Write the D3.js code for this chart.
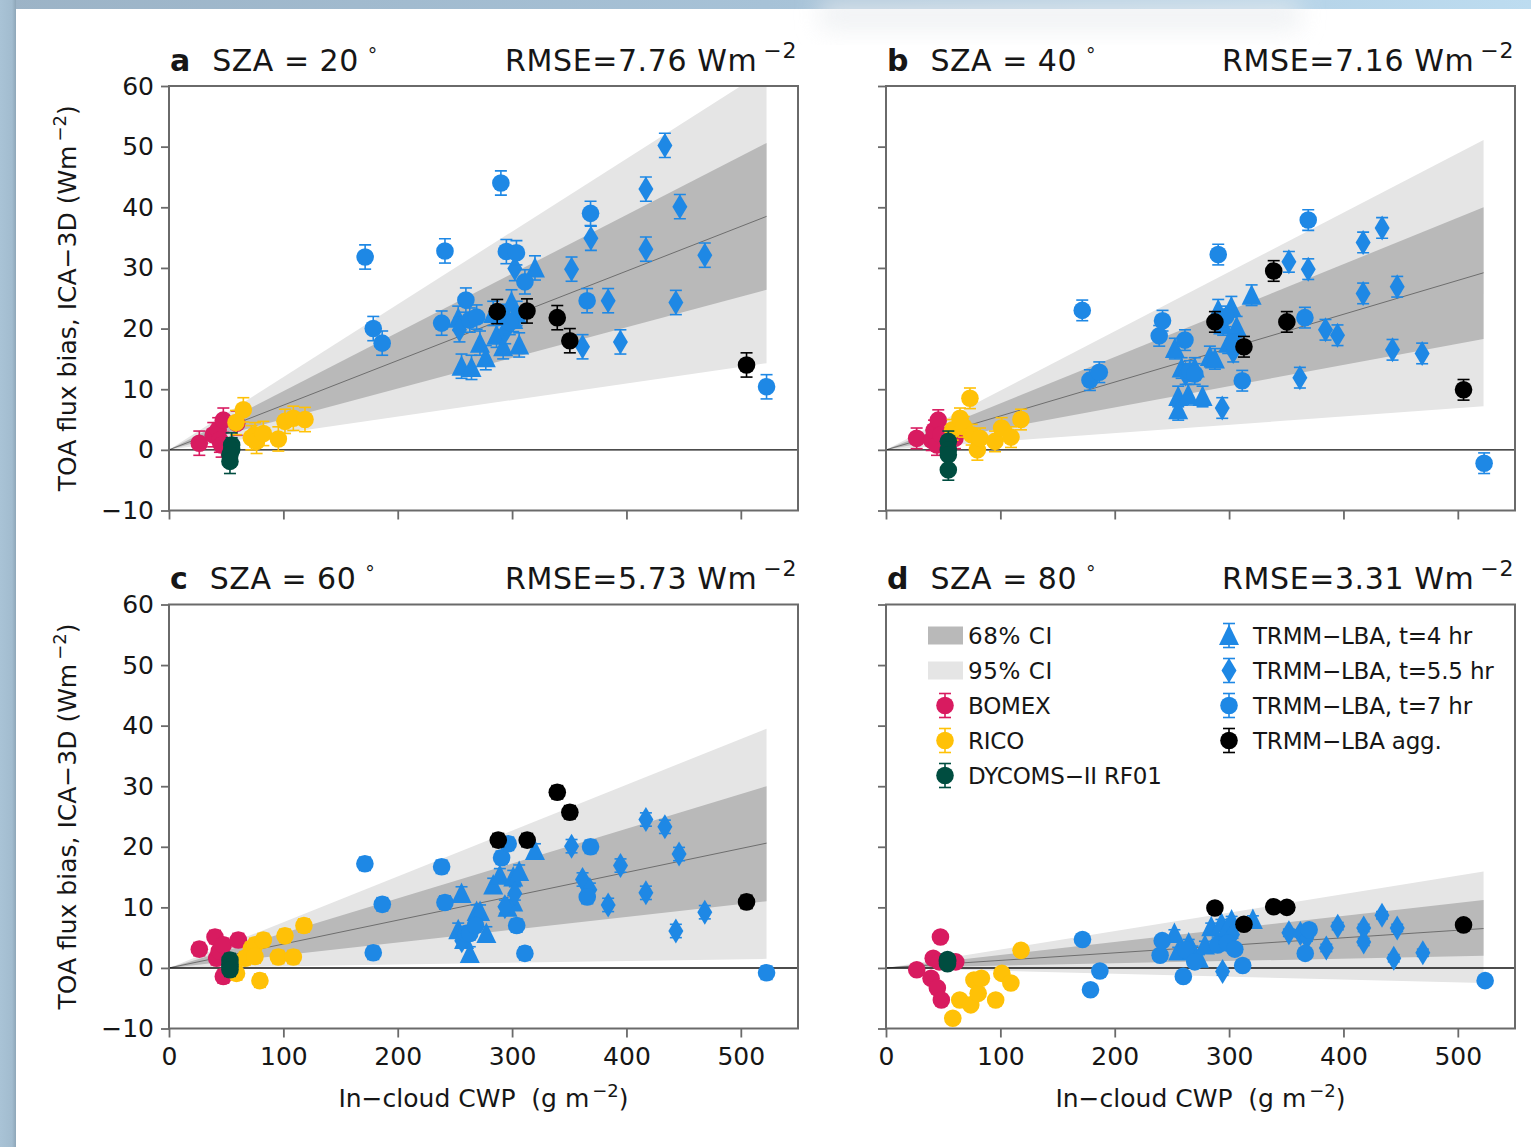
<!DOCTYPE html>
<html><head><meta charset="utf-8">
<script src="https://cdn.jsdelivr.net/npm/d3@7"></script>
<style>
body{margin:0;background:#fff;}
svg{display:block;}
text{font-family:"DejaVu Sans",sans-serif;fill:#161616;white-space:pre;}
</style>
</head><body>
<svg id="chart" width="1531" height="1147"></svg>
<script>
// ---------------- DATA ----------------
const panelLetters = ["a", "b", "c", "d"];
const szaValues = [20, 40, 60, 80];
const rmseValues = ["7.76", "7.16", "5.73", "3.31"];
const yTicks = [-10, 0, 10, 20, 30, 40, 50, 60];
const xTicks = [0, 100, 200, 300, 400, 500];
const bandEndCWP = 522.5;
// values at bandEndCWP: [lo95, lo68, fit, hi68, hi95]
const band_a = [14.3, 26.4, 38.5, 50.6, 62.7];
const band_b = [7.2, 18.3, 29.2, 40.0, 51.1];
const band_c = [1.5, 11.0, 20.6, 30.0, 39.5];
const band_d = [-2.5, 2.0, 6.5, 11.2, 15.9];
const errBar = [2.0, 1.7, 1.1, 0.6];

const seriesNames = ["BOMEX", "RICO", "DYCOMS\u2212II RF01", "TRMM\u2212LBA, t=4 hr",
  "TRMM\u2212LBA, t=5.5 hr", "TRMM\u2212LBA, t=7 hr", "TRMM\u2212LBA agg."];

// panel a  (SZA 20)
const bomex_a = [[26.5,1.1],[38.7,2.5],[43,3.3],[44.5,1.6],[46,0.8],[47.5,4.9],[59.2,4.4]];
const rico_a = [[58.6,4.5],[65,6.6],[72,2.0],[75.2,2.5],[76.6,1.4],[82.5,2.7],[95.6,1.8],[101.4,4.7],[108.7,5.2],[118.9,5.0]];
const dycoms_a = [[54.8,0.8],[54.8,0],[53.3,-0.8],[53.3,-1.9]];
const tri4_a = [[252.9,21.7],[255.8,13.8],[264.5,13.6],[271.9,17.6],[277,15.2],[283.5,22.5],[286.4,18.9],[292.2,17.0],[295,22.0],[299.5,24.4],[301,21.5],[304,22.5],[306.2,17.3],[320,30.0]];
const dia55_a = [[254,19.8],[294,19.5],[302.4,29.9],[352,29.8],[361.6,17.0],[368.9,34.9],[384,24.6],[394.7,17.8],[417,43.0],[417,33.1],[433.6,50.2],[443.2,24.3],[446.7,40.1],[468.5,32.1]];
const circ7_a = [[171.5,31.8],[178.6,20.0],[186.4,17.6],[238.4,20.9],[241.3,32.8],[259.6,24.7],[263,21.4],[269,21.9],[290.2,44.0],[295,32.7],[298,21],[303.8,32.5],[311.2,27.7],[365.6,24.6],[368.6,39.0],[522.5,10.4]];
const agg_a = [[287,22.8],[313,22.9],[339.5,21.8],[350.5,18.0],[505,14.0]];

// panel b  (SZA 40)
const bomex_b = [[26.8,1.9],[40,1.6],[42,3.2],[44.6,0.8],[45.7,4.9],[48,2.5],[60.3,1.9]];
const rico_b = [[58.3,3.3],[64.7,5.2],[68,3.8],[73.4,8.5],[74.9,2.5],[79.9,0.0],[82.2,1.9],[95.3,1.4],[101.1,3.6],[109.3,2.1],[118,5.0]];
const dycoms_b = [[54.5,1.4],[54.5,0],[54.5,-0.8],[54.5,-3.3]];
const tri4_b = [[252.6,16.7],[255.5,8.8],[255.5,6.6],[258.5,13.5],[264.3,9.1],[270,13.5],[276.8,8.8],[283.2,15.4],[287.6,15.0],[290.5,23.1],[294.8,20.6],[299.2,17.6],[302,23.6],[306.6,20.3],[319.7,25.5]];
const dia55_b = [[262,12.5],[294,6.9],[303.6,16.2],[352.3,31.0],[361.9,11.9],[369.2,29.8],[384.3,19.8],[394.8,18.9],[417.2,34.2],[417.2,25.8],[433.8,36.6],[442.9,16.5],[447,26.9],[468.8,15.9]];
const circ7_b = [[171.6,23.0],[178.3,11.5],[186.5,12.8],[238.9,18.8],[241.8,21.3],[261.4,18.1],[265.7,13],[270,12.5],[290.5,32.2],[297,22],[303.6,17.6],[311.5,11.4],[366.3,21.8],[369.2,37.9],[523,-2.2]];
const agg_b = [[287.6,21.1],[313,17.0],[339,29.5],[350.5,21.1],[505,9.9]];

// panel c  (SZA 60)
const bomex_c = [[26.5,3.1],[40.2,5.1],[41.7,1.6],[44,2.8],[47.5,3.8],[47.5,-1.4],[60.6,4.6]];
const rico_c = [[59,-0.9],[66.4,1.6],[72,3.2],[75.2,3.8],[75.2,1.9],[79.5,-2.1],[82.5,4.6],[95.6,1.8],[101.4,5.3],[108.7,1.8],[118,7.0]];
const dycoms_c = [[53.3,1.3],[53.3,0.6],[53.3,0.2],[53.3,-0.3]];
const tri4_c = [[252.9,6.3],[255.8,12.3],[258,4.7],[263,2.4],[269,9.3],[272,9.3],[277.5,5.7],[283.5,13.7],[289.3,15.3],[296,10],[301,15.0],[301,10.9],[306.2,15.9],[320,19.4]];
const dia55_c = [[256,4.5],[293.7,10.1],[302.4,12.3],[352,20.1],[361.6,14.6],[368,12.9],[384,10.4],[394.8,16.9],[417,24.5],[417,12.4],[433.6,23.3],[443.2,6.1],[446,18.8],[468.5,9.2]];
const circ7_c = [[171.3,17.2],[178.6,2.5],[186.5,10.5],[238.4,16.7],[241.3,10.8],[260,5.7],[263,5.7],[268,7],[290.8,18.2],[296.6,20.5],[304,7.0],[311.2,2.4],[365.7,11.7],[368.6,20.0],[522.5,-0.8]];
const agg_c = [[287.9,21.1],[313.2,21.1],[339.5,29.0],[350.5,25.7],[505,10.9]];

// panel d  (SZA 80)
const bomex_d = [[26.9,-0.3],[39.4,-1.7],[41.3,1.6],[44.9,-3.3],[46.6,1.0],[47.6,5.1],[48.4,-5.3],[61,1.0]];
const rico_d = [[58.4,-8.3],[64.5,-5.3],[74.1,-6.1],[76.9,-2.0],[80.6,-4.2],[83.4,-1.7],[95.9,-5.3],[101.3,-0.9],[109.2,-2.5],[118.1,2.9]];
const dycoms_d = [[53.8,1.4],[53.8,1.0],[53.8,0.7],[53.8,1.2]];
const tri4_d = [[252.2,5.7],[255.5,2.8],[264.7,4.1],[268,3],[273.6,1.6],[278.9,3.8],[284.4,6.8],[290,4.5],[293.3,7.4],[298,6.5],[302.2,7.9],[320.8,8.0]];
const dia55_d = [[294.3,-0.6],[303,5.5],[352.3,5.8],[362.3,5.7],[368,5],[385,3.3],[395,6.9],[417.7,6.6],[417.7,4.3],[433.7,8.7],[444,1.6],[447,6.6],[469.4,2.5]];
const circ7_d = [[171.8,4.7],[178.8,-3.6],[187,-0.5],[239.7,2.1],[241.5,4.5],[260,-1.4],[262,3],[270,1.0],[290,3.8],[298.6,4.1],[305,3.1],[311.9,0.4],[366.6,2.4],[370,6.3],[523.9,-2.1]];
const agg_d = [[287.6,9.9],[313,7.2],[339,10.1],[350.5,10.0],[505,7.1]];

// ---------------- BUILD ----------------
const bands = [band_a, band_b, band_c, band_d];
const panelSeries = [
  [bomex_a, rico_a, dycoms_a, tri4_a, dia55_a, circ7_a, agg_a],
  [bomex_b, rico_b, dycoms_b, tri4_b, dia55_b, circ7_b, agg_b],
  [bomex_c, rico_c, dycoms_c, tri4_c, dia55_c, circ7_c, agg_c],
  [bomex_d, rico_d, dycoms_d, tri4_d, dia55_d, circ7_d, agg_d]
];
const seriesColor = ["#d81b60", "#ffc107", "#004d40", "#1e88e5", "#1e88e5", "#1e88e5", "#000000"];
const seriesShape = ["circle", "circle", "circle", "triangle", "diamond", "circle", "circle"];

const svg = d3.select("#chart");

// window-like backdrop
const defs = svg.append("defs");
const g1 = defs.append("linearGradient").attr("id", "topg").attr("x1", 0).attr("x2", 1).attr("y1", 0).attr("y2", 0);
g1.append("stop").attr("offset", "0").attr("stop-color", "#9cb3c6");
g1.append("stop").attr("offset", "0.5").attr("stop-color", "#a7c2d7");
g1.append("stop").attr("offset", "1").attr("stop-color", "#bddcf0");
const g2 = defs.append("linearGradient").attr("id", "leftg").attr("x1", 0).attr("x2", 1).attr("y1", 0).attr("y2", 0);
g2.append("stop").attr("offset", "0").attr("stop-color", "#a9c3d6");
g2.append("stop").attr("offset", "0.75").attr("stop-color", "#a2bccf");
g2.append("stop").attr("offset", "1").attr("stop-color", "#8ea6b8");
const blur = defs.append("filter").attr("id", "blur").attr("x", "-50%").attr("y", "-50%").attr("width", "200%").attr("height", "200%");
blur.append("feGaussianBlur").attr("stdDeviation", 12);

svg.append("rect").attr("width", 1531).attr("height", 1147).attr("fill", "#ffffff");
svg.append("rect").attr("x", 0).attr("y", 0).attr("width", 1531).attr("height", 9).attr("fill", "url(#topg)");
svg.append("rect").attr("x", 0).attr("y", 0).attr("width", 16).attr("height", 1147).attr("fill", "url(#leftg)");
svg.append("rect").attr("x", 820).attr("y", 0).attr("width", 480).attr("height", 30)
  .attr("fill", "#e9ecef").attr("opacity", 0.7).attr("filter", "url(#blur)");

const boxes = [
  {x0: 169, x1: 798, y0: 86, y1: 510.5, titleY: 71},
  {x0: 886, x1: 1515, y0: 86, y1: 510.5, titleY: 71},
  {x0: 169, x1: 798, y0: 604.5, y1: 1028.5, titleY: 589},
  {x0: 886, x1: 1515, y0: 604.5, y1: 1028.5, titleY: 589}
];

function markerPath(shape) {
  if (shape === "triangle") return "M0,-11L10,9.5L-10,9.5Z";
  if (shape === "diamond") return "M0,-12.5L7.5,0L0,12.5L-7.5,0Z";
  return null;
}

function drawMarker(g, shape, color, cx, cy) {
  if (shape === "circle") {
    g.append("circle").attr("cx", cx).attr("cy", cy).attr("r", 8.8).attr("fill", color);
  } else {
    g.append("path").attr("d", markerPath(shape)).attr("transform", `translate(${cx},${cy})`).attr("fill", color);
  }
}

function drawErr(g, color, cx, ya, yb) {
  g.append("line").attr("x1", cx).attr("x2", cx).attr("y1", ya).attr("y2", yb)
    .attr("stroke", color).attr("stroke-width", 1.6);
  [ya, yb].forEach(yy => g.append("line").attr("x1", cx - 6).attr("x2", cx + 6).attr("y1", yy).attr("y2", yy)
    .attr("stroke", color).attr("stroke-width", 1.6));
}

boxes.forEach((b, i) => {
  const x = d3.scaleLinear().domain([0, 550]).range([b.x0, b.x1]);
  const y = d3.scaleLinear().domain([-10, 60]).range([b.y1, b.y0]);
  const g = svg.append("g");
  const clipId = "clip" + i;
  defs.append("clipPath").attr("id", clipId).append("rect")
    .attr("x", b.x0).attr("y", b.y0).attr("width", b.x1 - b.x0).attr("height", b.y1 - b.y0);

  const plot = g.append("g").attr("clip-path", `url(#${clipId})`);
  const bd = bands[i];
  const poly = pts => pts.map(p => [x(p[0]), y(p[1])].join(",")).join(" ");
  plot.append("polygon").attr("points", poly([[0, 0], [bandEndCWP, bd[4]], [bandEndCWP, bd[0]]])).attr("fill", "#e5e5e5");
  plot.append("polygon").attr("points", poly([[0, 0], [bandEndCWP, bd[3]], [bandEndCWP, bd[1]]])).attr("fill", "#b9b9b9");
  plot.append("line").attr("x1", x(0)).attr("y1", y(0)).attr("x2", x(bandEndCWP)).attr("y2", y(bd[2]))
    .attr("stroke", "#6e6e6e").attr("stroke-width", 1);
  plot.append("line").attr("x1", b.x0).attr("x2", b.x1).attr("y1", y(0)).attr("y2", y(0))
    .attr("stroke", "#111").attr("stroke-width", 1.4);

  // axes
  const yAxis = d3.axisLeft(y).tickValues(yTicks).tickSize(8).tickPadding(7);
  if (i % 2 === 1) yAxis.tickFormat("");
  const xAxis = d3.axisBottom(x).tickValues(xTicks).tickSize(9).tickPadding(10);
  if (i < 2) xAxis.tickFormat("");
  const ya = g.append("g").attr("transform", `translate(${b.x0},0)`).call(yAxis);
  const xa = g.append("g").attr("transform", `translate(0,${b.y1})`).call(xAxis);
  [ya, xa].forEach(a => {
    a.select(".domain").remove();
    a.selectAll(".tick line").attr("stroke", "#6a6a6a").attr("stroke-width", 1.8);
    a.selectAll(".tick text").attr("font-size", 25).attr("fill", "#161616")
      .attr("font-family", "DejaVu Sans, sans-serif");
  });

  // data
  const ser = panelSeries[i];
  ser.forEach((pts, s) => {
    const sg = plot.append("g");
    pts.forEach(p => {
      const cx = x(p[0]);
      drawErr(sg, seriesColor[s], cx, y(p[1] - errBar[i]), y(p[1] + errBar[i]));
    });
    pts.forEach(p => drawMarker(sg, seriesShape[s], seriesColor[s], x(p[0]), y(p[1])));
  });

  // frame
  g.append("rect").attr("x", b.x0).attr("y", b.y0).attr("width", b.x1 - b.x0).attr("height", b.y1 - b.y0)
    .attr("fill", "none").attr("stroke", "#6a6a6a").attr("stroke-width", 2);

  // titles
  const t = g.append("text").attr("x", b.x0 + 1).attr("y", b.titleY).attr("font-size", 30);
  t.append("tspan").attr("font-weight", "bold").text(panelLetters[i]);
  t.append("tspan").attr("dx", 22).attr("letter-spacing", 0.5).text(`SZA = ${szaValues[i]}`);
  t.append("tspan").attr("dx", 9).attr("dy", -9).attr("font-size", 19).text("\u00b0");
  const r = g.append("text").attr("x", b.x1 - 1).attr("y", b.titleY).attr("font-size", 30)
    .attr("text-anchor", "end").attr("letter-spacing", 0.6);
  r.append("tspan").text(`RMSE=${rmseValues[i]} Wm`);
  r.append("tspan").attr("dx", 6).attr("dy", -13).attr("font-size", 22).text("\u22122");

  // axis labels
  if (i % 2 === 0) {
    const cy = (b.y0 + b.y1) / 2;
    const yl = g.append("text").attr("transform", `translate(76,${cy}) rotate(-90)`)
      .attr("text-anchor", "middle").attr("font-size", 25);
    yl.append("tspan").text("TOA flux bias, ICA\u22123D (Wm");
    yl.append("tspan").attr("dx", 4).attr("dy", -10).attr("font-size", 18).text("\u22122");
    yl.append("tspan").attr("dy", 10).text(")");
  }
  if (i >= 2) {
    const cx = (b.x0 + b.x1) / 2;
    const xl = g.append("text").attr("x", cx).attr("y", 1107).attr("text-anchor", "middle").attr("font-size", 25);
    xl.append("tspan").text("In\u2212cloud CWP  (g m");
    xl.append("tspan").attr("dx", 3).attr("dy", -10).attr("font-size", 18).text("\u22122");
    xl.append("tspan").attr("dy", 10).text(")");
  }

  // legend (panel d)
  if (i === 3) {
    const lg = g.append("g");
    const lx = b.x0 + 42, tx = b.x0 + 82;
    const rows = [b.y0 + 31, b.y0 + 66, b.y0 + 101, b.y0 + 136, b.y0 + 171];
    lg.append("rect").attr("x", lx).attr("y", rows[0] - 9).attr("width", 35).attr("height", 18).attr("fill", "#b9b9b9");
    lg.append("rect").attr("x", lx).attr("y", rows[1] - 9).attr("width", 35).attr("height", 18).attr("fill", "#e5e5e5");
    const leftLabels = ["68% CI", "95% CI"];
    leftLabels.forEach((l, k) => lg.append("text").attr("x", tx).attr("y", rows[k]).attr("dy", "0.36em")
      .attr("font-size", 23).attr("letter-spacing", 0.6).text(l));
    [0, 1, 2].forEach((s, k) => {
      const yy = rows[k + 2], mx = b.x0 + 59;
      drawErr(lg, seriesColor[s], mx, yy - 12, yy + 12);
      drawMarker(lg, seriesShape[s], seriesColor[s], mx, yy);
      lg.append("text").attr("x", tx).attr("y", yy).attr("dy", "0.36em").attr("font-size", 23)
        .attr("letter-spacing", -0.2).text(seriesNames[s]);
    });
    [3, 4, 5, 6].forEach((s, k) => {
      const yy = rows[k], mx = b.x0 + 343;
      drawErr(lg, seriesColor[s], mx, yy - 12, yy + 12);
      drawMarker(lg, seriesShape[s], seriesColor[s], mx, yy);
      lg.append("text").attr("x", b.x0 + 367).attr("y", yy).attr("dy", "0.36em").attr("font-size", 23)
        .attr("letter-spacing", -0.2).text(seriesNames[s]);
    });
  }
});
</script>
</body></html>
